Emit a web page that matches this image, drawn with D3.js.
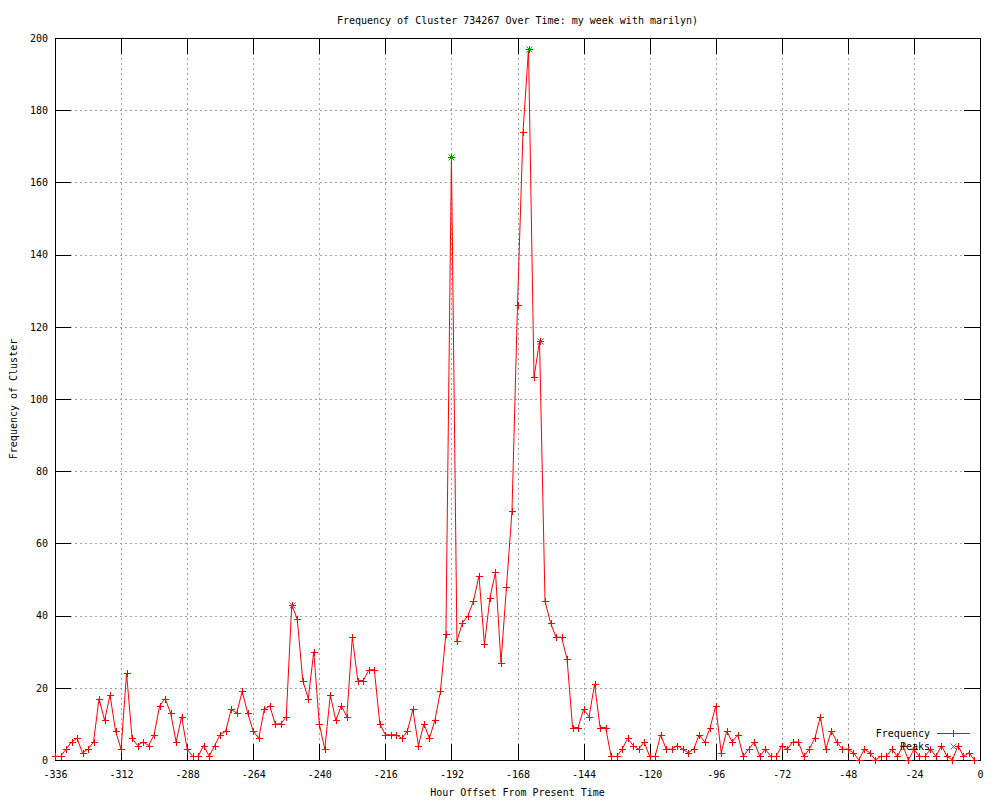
<!DOCTYPE html>
<html>
<head>
<meta charset="utf-8">
<script src="https://cdn.jsdelivr.net/npm/d3@7"></script>
<style>
  body { margin: 0; background: #fff; }
  text { font-family: "DejaVu Sans Mono", monospace; font-size: 10px; fill: #000; }
</style>
</head>
<body>
<div id="chart"></div>
<script>
// hours relative to now, one sample every 2 hours
const hours = [
  -336,-334,-332,-330,-328,-326,-324,-322,-320,-318,-316,-314,-312,-310,-308,-306,-304,-302,-300,-298,
  -296,-294,-292,-290,-288,-286,-284,-282,-280,-278,-276,-274,-272,-270,-268,-266,-264,-262,-260,-258,
  -256,-254,-252,-250,-248,-246,-244,-242,-240,-238,-236,-234,-232,-230,-228,-226,-224,-222,-220,-218,
  -216,-214,-212,-210,-208,-206,-204,-202,-200,-198,-196,-194,-192,-190,-188,-186,-184,-182,-180,-178,
  -176,-174,-172,-170,-168,-166,-164,-162,-160,-158,-156,-154,-152,-150,-148,-146,-144,-142,-140,-138,
  -136,-134,-132,-130,-128,-126,-124,-122,-120,-118,-116,-114,-112,-110,-108,-106,-104,-102,-100,-98,
  -96,-94,-92,-90,-88,-86,-84,-82,-80,-78,-76,-74,-72,-70,-68,-66,-64,-62,-60,-58,
  -56,-54,-52,-50,-48,-46,-44,-42,-40,-38,-36,-34,-32,-30,-28,-26,-24,-22,-20,-18,
  -16,-14,-12,-10,-8,-6,-4,-2
];

const frequency = [
  1,1,3,5,6,2,3,5,17,11,
  18,8,3,24,6,4,5,4,7,15,
  17,13,5,12,3,1,1,4,1,4,
  7,8,14,13,19,13,8,6,14,15,
  10,10,12,43,39,22,17,30,10,3,
  18,11,15,12,34,22,22,25,25,10,
  7,7,7,6,8,14,4,10,6,11,
  19,35,167,33,38,40,44,51,32,45,
  52,27,48,69,126,174,197,106,116,44,
  38,34,34,28,9,9,14,12,21,9,
  9,1,1,3,6,4,3,5,1,1,
  7,3,3,4,3,2,3,7,5,9,
  15,2,8,5,7,1,3,5,1,3,
  1,1,4,3,5,5,1,3,6,12,
  3,8,5,3,3,2,0,3,2,0,
  1,1,3,1,4,0,3,1,1,3,
  1,4,1,0,4,1,2,0
];

const peakHours = [-250, -192, -164, -160];
const peakValues = [43, 167, 197, 116];

const xTicks = [-336, -312, -288, -264, -240, -216, -192, -168, -144, -120, -96, -72, -48, -24, 0];
const yTicks = [0, 20, 40, 60, 80, 100, 120, 140, 160, 180, 200];

const width = 1000;
const height = 800;
const margin = { top: 38, right: 20, bottom: 40, left: 55 };

const svg = d3.select("#chart")
  .append("svg")
  .attr("width", width)
  .attr("height", height);

const x = d3.scaleLinear()
  .domain([-336, 0])
  .range([margin.left, width - margin.right]);

const y = d3.scaleLinear()
  .domain([0, 200])
  .range([height - margin.bottom, margin.top]);

// dotted grid
const grid = svg.append("g")
  .attr("stroke", "#a0a0a0")
  .attr("stroke-width", 1)
  .attr("stroke-dasharray", "2,3")
  .attr("shape-rendering", "crispEdges");

grid.selectAll("line.v")
  .data(xTicks.slice(1, -1))
  .join("line")
  .attr("class", "v")
  .attr("x1", d => Math.round(x(d)) + 0.5)
  .attr("x2", d => Math.round(x(d)) + 0.5)
  .attr("y1", y(0))
  .attr("y2", y(200));

grid.selectAll("line.h")
  .data(yTicks.slice(1, -1))
  .join("line")
  .attr("class", "h")
  .attr("y1", d => Math.round(y(d)) + 0.5)
  .attr("y2", d => Math.round(y(d)) + 0.5)
  .attr("x1", x(-336))
  .attr("x2", x(0));

// axes, ticks pointing inwards like gnuplot
const tickLen = 16;
const fmt = d => String(d);

const gx = svg.append("g")
  .attr("transform", `translate(0,${y(0)})`)
  .call(d3.axisBottom(x).tickValues(xTicks).tickSize(-tickLen).tickPadding(11).tickFormat(fmt));

const gxTop = svg.append("g")
  .attr("transform", `translate(0,${y(200)})`)
  .call(d3.axisTop(x).tickValues(xTicks).tickSize(-tickLen).tickFormat(""));

const gy = svg.append("g")
  .attr("transform", `translate(${x(-336)},0)`)
  .call(d3.axisLeft(y).tickValues(yTicks).tickSize(-tickLen).tickPadding(7).tickFormat(fmt));

const gyRight = svg.append("g")
  .attr("transform", `translate(${x(0)},0)`)
  .call(d3.axisRight(y).tickValues(yTicks).tickSize(-tickLen).tickFormat(""));

[gx, gxTop, gy, gyRight].forEach(g => {
  g.select(".domain").remove();
  g.selectAll("line").attr("stroke", "#000").attr("shape-rendering", "crispEdges");
  g.selectAll("text").attr("font-family", null).attr("font-size", null);
});

// border
svg.append("rect")
  .attr("x", x(-336) + 0.5)
  .attr("y", y(200) + 0.5)
  .attr("width", x(0) - x(-336))
  .attr("height", y(0) - y(200))
  .attr("fill", "none")
  .attr("stroke", "#000")
  .attr("shape-rendering", "crispEdges");

// frequency line
const points = hours.map((h, i) => ({ hour: h, value: frequency[i] }));

const line = d3.line()
  .x(d => x(d.hour))
  .y(d => y(d.value));

svg.append("path")
  .datum(points)
  .attr("fill", "none")
  .attr("stroke", "#ff0000")
  .attr("stroke-width", 1)
  .attr("d", line);

const plusPath = (cx, cy, r) => `M${cx - r},${cy}H${cx + r}M${cx},${cy - r}V${cy + r}`;
const crossPath = (cx, cy, r) => `M${cx - r},${cy - r}L${cx + r},${cy + r}M${cx - r},${cy + r}L${cx + r},${cy - r}`;

svg.append("g")
  .selectAll("path")
  .data(points)
  .join("path")
  .attr("d", d => plusPath(Math.round(x(d.hour)) + 0.5, Math.round(y(d.value)) + 0.5, 3.5))
  .attr("stroke", "#ff0000")
  .attr("stroke-width", 1)
  .attr("fill", "none");

// peaks
const peaks = peakHours.map((h, i) => ({ hour: h, value: peakValues[i] }));

svg.append("g")
  .selectAll("path")
  .data(peaks)
  .join("path")
  .attr("d", d => crossPath(Math.round(x(d.hour)) + 0.5, Math.round(y(d.value)) + 0.5, 3))
  .attr("stroke", "#00c000")
  .attr("stroke-width", 1)
  .attr("fill", "none");

// legend
const legend = svg.append("g");
legend.append("text")
  .attr("x", 930).attr("y", 733).attr("dy", "0.35em")
  .attr("text-anchor", "end")
  .text("Frequency");
legend.append("line")
  .attr("x1", 937).attr("x2", 970).attr("y1", 733.5).attr("y2", 733.5)
  .attr("stroke", "#ff0000");
legend.append("path")
  .attr("d", plusPath(953.5, 733.5, 3.5))
  .attr("stroke", "#ff0000");
legend.append("text")
  .attr("x", 930).attr("y", 746).attr("dy", "0.35em")
  .attr("text-anchor", "end")
  .text("Peaks");
legend.append("path")
  .attr("d", crossPath(953.5, 746.5, 3))
  .attr("stroke", "#00c000");

// titles
svg.append("text")
  .attr("x", (x(-336) + x(0)) / 2)
  .attr("y", 20).attr("dy", "0.35em")
  .attr("text-anchor", "middle")
  .text("Frequency of Cluster 734267 Over Time: my week with marilyn)");

svg.append("text")
  .attr("x", (x(-336) + x(0)) / 2)
  .attr("y", 792).attr("dy", "0.35em")
  .attr("text-anchor", "middle")
  .text("Hour Offset From Present Time");

svg.append("text")
  .attr("transform", `translate(13,${(y(0) + y(200)) / 2}) rotate(-90)`)
  .attr("dy", "0.35em")
  .attr("text-anchor", "middle")
  .text("Frequency of Cluster");
</script>
</body>
</html>
